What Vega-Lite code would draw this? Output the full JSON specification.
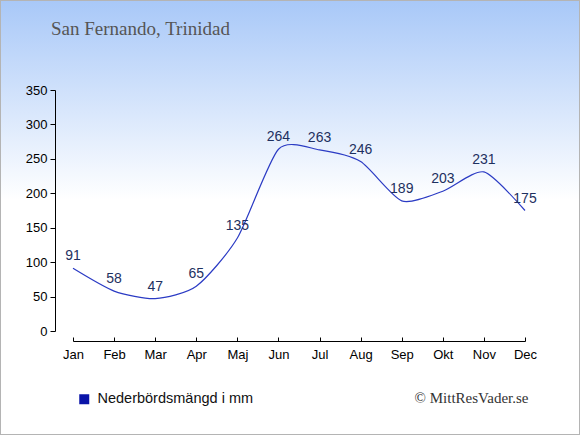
{
  "$schema": "https://vega.github.io/schema/vega-lite/v6.json",
  "width": 580,
  "height": 435,
  "autosize": {"type": "none"},
  "padding": 0,
  "background": "white",
  "title": {
    "text": "San Fernando, Trinidad",
    "anchor": "start",
    "frame": "group",
    "orient": "top",
    "offset": 0,
    "dx": 51,
    "dy": 54,
    "baseline": "alphabetic",
    "font": "Liberation Serif",
    "fontSize": 19,
    "fontWeight": "normal",
    "color": "#555555"
  },
  "config": {
    "view": {
      "stroke": "#b4b4b4",
      "strokeWidth": 2,
      "fill": {
        "gradient": "linear",
        "x1": 0, "y1": 0, "x2": 0, "y2": 1,
        "stops": [
          {"offset": 0, "color": "#a8c8f8"},
          {"offset": 0.46, "color": "#ffffff"},
          {"offset": 1, "color": "#ffffff"}
        ]
      }
    },
    "axis": {
      "labelFont": "Liberation Sans",
      "labelFontSize": 13,
      "labelColor": "#000000",
      "domainColor": "#000000",
      "tickColor": "#000000",
      "grid": false
    }
  },
  "data": {
    "values": [
      {"month": "Jan", "mm": 91},
      {"month": "Feb", "mm": 58},
      {"month": "Mar", "mm": 47},
      {"month": "Apr", "mm": 65},
      {"month": "Maj", "mm": 135},
      {"month": "Jun", "mm": 264},
      {"month": "Jul", "mm": 263},
      {"month": "Aug", "mm": 246},
      {"month": "Sep", "mm": 189},
      {"month": "Okt", "mm": 203},
      {"month": "Nov", "mm": 231},
      {"month": "Dec", "mm": 175}
    ]
  },
  "encoding": {
    "x": {
      "field": "month",
      "type": "ordinal",
      "sort": null,
      "scale": {"type": "point", "range": [73, 525], "padding": 0},
      "axis": {
        "orient": "bottom",
        "offset": -94,
        "labelAngle": 0,
        "tickSize": -4,
        "labelPadding": 11,
        "title": "© MittResVader.se",
        "titleX": 528,
        "titleY": 61,
        "titleAlign": "right",
        "titleAnchor": null,
        "titleBaseline": "alphabetic",
        "titleFont": "Liberation Serif",
        "titleFontSize": 15,
        "titleFontWeight": "normal",
        "titleColor": "#333333"
      }
    },
    "y": {
      "field": "mm",
      "type": "quantitative",
      "scale": {"domain": [0, 350], "range": [331, 90]},
      "axis": {
        "orient": "left",
        "offset": -55,
        "values": [0, 50, 100, 150, 200, 250, 300, 350],
        "tickSize": 5,
        "labelPadding": 3,
        "title": null
      }
    }
  },
  "layer": [
    {
      "mark": {"type": "line", "interpolate": "cardinal", "tension": 0.3, "strokeWidth": 1.2},
      "encoding": {
        "color": {
          "datum": "Nederbördsmängd i mm",
          "scale": {"range": ["#2b3bc4"]},
          "legend": {
            "title": null,
            "orient": "none",
            "legendX": 77,
            "legendY": 392,
            "padding": 0,
            "symbolType": "square",
            "symbolSize": 100,
            "symbolOffset": 0,
            "labelOffset": 6,
            "labelFont": "Liberation Sans",
            "labelFontSize": 14.5,
            "labelColor": "#111111",
            "encode": {
              "symbols": {
                "update": {
                  "fill": {"value": "#0a14a8"},
                  "stroke": {"value": "#0a14a8"},
                  "strokeWidth": {"value": 0}
                }
              }
            }
          }
        }
      }
    },
    {
      "mark": {
        "type": "text",
        "dy": -8,
        "baseline": "alphabetic",
        "font": "Liberation Sans",
        "fontSize": 14,
        "color": "#1e3060"
      },
      "encoding": {"text": {"field": "mm", "type": "quantitative"}}
    }
  ]
}
